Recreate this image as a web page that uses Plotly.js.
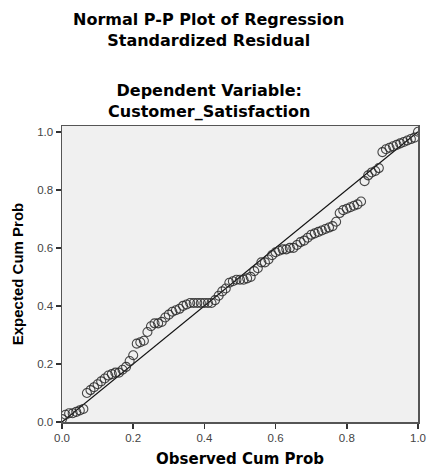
<!DOCTYPE html>
<html>
<head>
<meta charset="utf-8">
<script src="https://cdn.plot.ly/plotly-3.0.1.min.js"></script>
<style>html,body{margin:0;padding:0;background:#fff;}</style>
</head>
<body>
<div id="chart" style="width:427px;height:468px;"></div>
<script>
var observedCumProb = [0.00,0.01,0.02,0.03,0.04,0.05,0.06,0.07,0.08,0.09,0.10,0.11,0.12,0.13,0.14,0.15,0.16,0.17,0.18,0.19,0.20,0.21,0.22,0.23,0.24,0.25,0.26,0.27,0.28,0.29,0.30,0.31,0.32,0.33,0.34,0.35,0.36,0.37,0.38,0.39,0.40,0.41,0.42,0.43,0.44,0.45,0.46,0.47,0.48,0.49,0.50,0.51,0.52,0.53,0.54,0.55,0.56,0.57,0.58,0.59,0.60,0.61,0.62,0.63,0.64,0.65,0.66,0.67,0.68,0.69,0.70,0.71,0.72,0.73,0.74,0.75,0.76,0.77,0.78,0.79,0.80,0.81,0.82,0.83,0.84,0.85,0.86,0.87,0.88,0.89,0.90,0.91,0.92,0.93,0.94,0.95,0.96,0.97,0.98,0.99,1.00];
var expectedCumProb = [0.01,0.025,0.03,0.03,0.035,0.04,0.045,0.10,0.11,0.12,0.13,0.14,0.15,0.16,0.165,0.17,0.17,0.18,0.19,0.21,0.23,0.27,0.275,0.28,0.31,0.33,0.34,0.34,0.345,0.36,0.37,0.38,0.385,0.39,0.40,0.405,0.41,0.41,0.41,0.41,0.41,0.41,0.41,0.42,0.435,0.45,0.46,0.48,0.485,0.49,0.49,0.49,0.495,0.50,0.52,0.53,0.55,0.55,0.56,0.575,0.585,0.59,0.595,0.595,0.60,0.60,0.61,0.62,0.625,0.635,0.645,0.65,0.655,0.66,0.665,0.67,0.675,0.69,0.72,0.73,0.735,0.74,0.745,0.75,0.76,0.83,0.85,0.86,0.865,0.875,0.93,0.94,0.945,0.95,0.955,0.96,0.965,0.97,0.975,0.98,1.00];
var refLineX = [0, 1];
var refLineY = [0, 1];
var xTicks = [0, 0.2, 0.4, 0.6, 0.8, 1.0];
var yTicks = [0, 0.2, 0.4, 0.6, 0.8, 1.0];
var tickLabels = ['0.0', '0.2', '0.4', '0.6', '0.8', '1.0'];
var titleText = 'Normal P-P Plot of Regression<br>Standardized Residual';
var subtitleText = 'Dependent Variable:<br>Customer_Satisfaction';

var font = 'Liberation Sans, Arial, sans-serif';
var wideFont = 'DejaVu Sans, Liberation Sans, sans-serif';

var traces = [
  {x: refLineX, y: refLineY, mode: 'lines', type: 'scatter',
   line: {color: '#111', width: 1.2}, hoverinfo: 'skip', showlegend: false},
  {x: observedCumProb, y: expectedCumProb, mode: 'markers', type: 'scatter',
   marker: {symbol: 'circle-open', size: 9, color: 'rgba(40,40,40,0.85)', line: {width: 1.1}},
   showlegend: false}
];

var plotLeft = 62, plotRight = 418, plotTop = 126, plotBottom = 422;
function py(px) { return (plotBottom - px) / (plotBottom - plotTop); }
function pxX(px) { return (px - plotLeft) / (plotRight - plotLeft); }

var layout = {
  width: 427, height: 468,
  margin: {l: plotLeft, r: 427 - plotRight, t: plotTop, b: 468 - plotBottom},
  paper_bgcolor: '#ffffff',
  plot_bgcolor: '#f0f0f0',
  showlegend: false,
  font: {family: font, color: '#000'},
  xaxis: {
    range: [0, 1.0], tickvals: xTicks, ticktext: tickLabels,
    ticklabeloverflow: 'allow',
    showgrid: false, zeroline: false,
    showline: true, linecolor: '#555', linewidth: 1.5, mirror: true,
    ticks: 'outside', ticklen: 5, tickcolor: '#333', tickwidth: 1.5,
    tickfont: {family: font, size: 11.5, color: '#444'},
    title: {text: '<b>Observed Cum Prob</b>', font: {family: wideFont, size: 15, color: '#000'}, standoff: 12}
  },
  yaxis: {
    range: [0, 1.02], tickvals: yTicks, ticktext: tickLabels,
    showgrid: false, zeroline: false,
    showline: true, linecolor: '#555', linewidth: 1.5, mirror: true,
    ticks: 'outside', ticklen: 5, tickcolor: '#333', tickwidth: 1.5,
    tickfont: {family: font, size: 11.5, color: '#444'},
    title: {text: '<b>Expected Cum Prob</b>', font: {family: font, size: 15, color: '#000'}, standoff: 10}
  },
  annotations: [
    {text: '<b>' + titleText + '</b>', xref: 'paper', yref: 'paper', x: pxX(208), y: py(30),
     xanchor: 'center', yanchor: 'middle', showarrow: false,
     font: {family: wideFont, size: 16, color: '#000'}},
    {text: '<b>' + subtitleText + '</b>', xref: 'paper', yref: 'paper', x: pxX(209), y: py(101),
     xanchor: 'center', yanchor: 'middle', showarrow: false,
     font: {family: wideFont, size: 16, color: '#000'}}
  ]
};

Plotly.newPlot('chart', traces, layout, {displayModeBar: false, staticPlot: true});
</script>
</body>
</html>
